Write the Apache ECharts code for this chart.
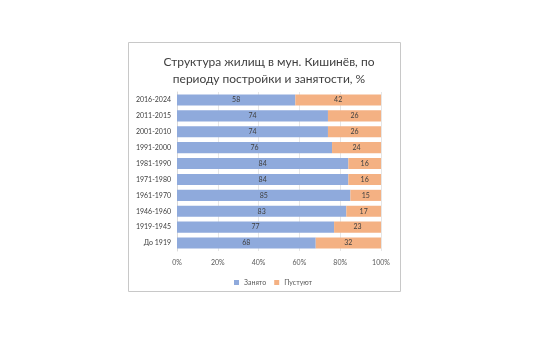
<!DOCTYPE html>
<html>
<head>
<meta charset="utf-8">
<script src="https://cdn.jsdelivr.net/npm/echarts@6/dist/echarts.min.js"></script>
<style>
  html, body { margin: 0; padding: 0; background: #fff; }
  #chart { width: 543px; height: 354px; }
</style>
</head>
<body>
<div id="chart"></div>
<script>
// данные с картинки
var periods = ['2016-2024', '2011-2015', '2001-2010', '1991-2000', '1981-1990',
    '1971-1980', '1961-1970', '1946-1960', '1919-1945', 'До 1919'];
var occupied = [58, 74, 74, 76, 84, 84, 85, 83, 77, 68];
var empty = [42, 26, 26, 24, 16, 16, 15, 17, 23, 32];

var myChart = echarts.init(document.getElementById('chart'));

var font = 'Lato, "Open Sans", sans-serif';

var option = {
    backgroundColor: '#fff',
    animation: false,
    title: {
        text: 'Структура жилищ в мун. Кишинёв, по\nпериоду постройки и занятости, %',
        left: 264,
        textAlign: 'center',
        top: 49,
        textStyle: {
            fontFamily: font,
            fontSize: 12,
            fontWeight: 'normal',
            color: '#404040',
            lineHeight: 17
        }
    },
    graphic: [{
        type: 'rect',
        shape: { x: 128.5, y: 42.5, width: 272, height: 249 },
        style: { fill: 'none', stroke: '#c8c8c8', lineWidth: 1 },
        silent: true
    }],
    legend: {
        data: ['Занято', 'Пустуют'],
        left: 229,
        top: 274,
        itemWidth: 5,
        itemHeight: 5,
        itemGap: 8,
        icon: 'rect',
        textStyle: { fontFamily: font, fontSize: 7, color: '#595959' }
    },
    grid: {
        left: 177,
        right: 162,
        top: 92,
        bottom: 103
    },
    xAxis: {
        type: 'value',
        min: 0,
        max: 100,
        interval: 20,
        axisLabel: {
            formatter: '{value}%',
            fontFamily: font,
            fontSize: 7,
            color: '#595959',
            margin: 8
        },
        axisLine: { show: false },
        axisTick: { show: false },
        splitLine: { lineStyle: { color: '#e6e6e6' } }
    },
    yAxis: {
        type: 'category',
        inverse: true,
        data: periods,
        axisLabel: {
            fontFamily: font,
            fontSize: 7,
            color: '#404040',
            margin: 6
        },
        axisLine: { lineStyle: { color: '#d9d9d9' } },
        axisTick: { show: false }
    },
    series: [
        {
            name: 'Занято',
            type: 'bar',
            stack: 'total',
            barCategoryGap: '30%',
            data: occupied,
            itemStyle: { color: '#8faadc' },
            label: {
                show: true,
                position: 'inside',
                fontFamily: font,
                fontSize: 7,
                color: '#404040'
            }
        },
        {
            name: 'Пустуют',
            type: 'bar',
            stack: 'total',
            data: empty,
            itemStyle: { color: '#f4b183' },
            label: {
                show: true,
                position: 'inside',
                fontFamily: font,
                fontSize: 7,
                color: '#404040'
            }
        }
    ]
};

myChart.setOption(option);
window.addEventListener('resize', function () {
    myChart.resize();
});
</script>
</body>
</html>
